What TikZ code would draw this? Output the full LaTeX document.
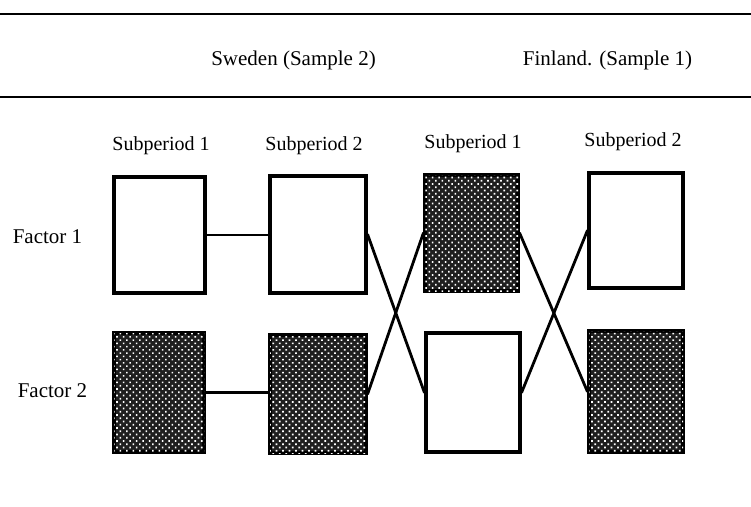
\documentclass[tikz,border=0pt]{standalone}
\usepackage{fontspec}
\setmainfont{Liberation Serif}
\usetikzlibrary{patterns.meta}
\begin{document}
\begin{tikzpicture}[x=1pt,y=-1pt,
  lbl/.style={font=\fontsize{20}{24}\selectfont, anchor=base, inner sep=0pt},
  head/.style={lbl, font=\fontsize{21}{25}\selectfont},
  cell/.style={draw=black, line width=3.2pt, rectangle, inner sep=0pt, minimum width=92pt, minimum height=117pt},
  plain/.style={cell, fill=white},
  dark/.style={cell, fill=black!88, postaction={pattern={Dots[angle=45, distance=4.6pt, radius=1.2pt]}, pattern color=white}},
  link/.style={line width=2.8pt, line cap=round},
  rule/.style={line width=2.4pt}]
\useasboundingbox (0,0) rectangle (751,506);
\fill[white] (0,0) rectangle (751,506);
% horizontal rules
\coordinate (r1l) at (0,14); \coordinate (r1r) at (751,14);
\coordinate (r2l) at (0,97); \coordinate (r2r) at (751,97);
\draw[rule] (r1l) -- (r1r);
\draw[rule] (r2l) -- (r2r);
% headers
\node[head] (sw) at (293.5,65) {Sweden (Sample 2)};
\node[head] (fi) at (607.5,65) {Finland. (Sample 1)};
\node[lbl] (s1) at (161,150) {Subperiod 1};
\node[lbl] (s2) at (314,150) {Subperiod 2};
\node[lbl] (s3) at (473,148) {Subperiod 1};
\node[lbl] (s4) at (633,146) {Subperiod 2};
\node[lbl, font=\fontsize{21}{25}\selectfont] (f1) at (47.5,243) {Factor 1};
\node[lbl, font=\fontsize{21}{25}\selectfont] (f2) at (52.5,397) {Factor 2};
% boxes
\node[plain, minimum width=91pt, minimum height=116pt] (A1) at (159.5,235) {};
\node[plain, minimum width=96pt, minimum height=117pt] (A2) at (318,234.5) {};
\node[dark,  minimum width=93pt, minimum height=116pt] (A3) at (471.5,233) {};
\node[plain, minimum width=94pt, minimum height=115pt] (A4) at (636,230.5) {};
\node[dark,  minimum width=90pt, minimum height=119pt] (B1) at (159,392.5) {};
\node[dark,  minimum width=96pt, minimum height=118pt] (B2) at (318,394) {};
\node[plain, minimum width=94pt, minimum height=119pt] (B3) at (473,392.5) {};
\node[dark,  minimum width=94pt, minimum height=121pt] (B4) at (636,391.5) {};
% connectors
\draw[link] (A1.east) -- (A1.east -| A2.west);
\draw[link] (B1.east) -- (B1.east -| B2.west);
\draw[link] (A2.east) -- (B3.west);
\draw[link] (B2.east) -- (A3.west);
\draw[link] (A3.east) -- (B4.west);
\draw[link] (B3.east) -- (A4.west);
\end{tikzpicture}
\end{document}
